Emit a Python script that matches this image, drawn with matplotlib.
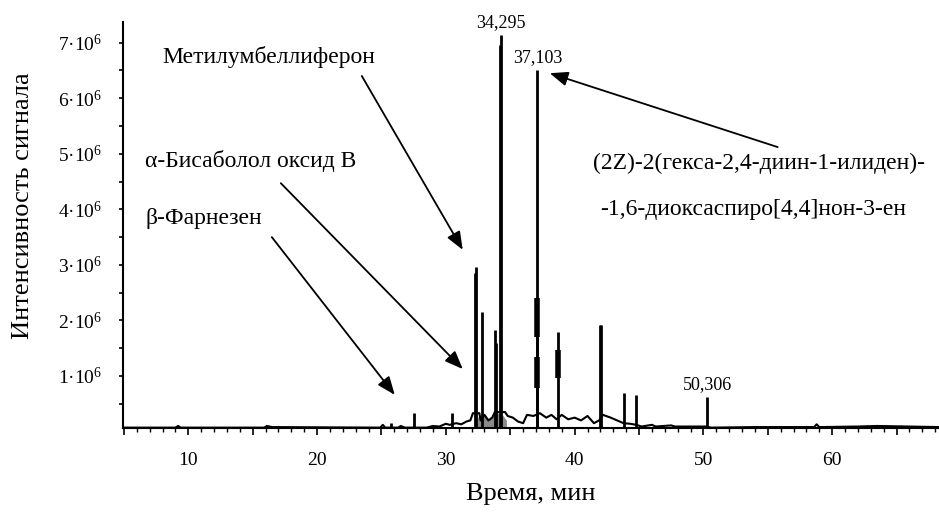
import matplotlib
matplotlib.use("Agg")
import matplotlib.pyplot as plt
from matplotlib.ticker import MultipleLocator, FuncFormatter


plt.rcParams['font.family'] = ['Liberation Serif', 'DejaVu Serif']
plt.rcParams['mathtext.fontset'] = 'custom'
plt.rcParams['mathtext.rm'] = 'Liberation Serif'
plt.rcParams['mathtext.it'] = 'Liberation Serif:italic'

# Peaks of the chromatogram: retention time [min], height [10^6].
peak_times = [25.7, 27.5, 30.5, 32.25, 32.32, 32.84, 33.85, 33.92,
	34.22, 34.295, 37.05, 37.103, 38.72, 41.97, 42.03, 43.8, 44.74,
	50.306]
peak_heights = [0.16, 0.34, 0.34, 2.85, 2.97, 2.16, 1.83, 1.6,
	6.95, 7.14, 2.4, 6.5, 1.79, 1.92, 1.92, 0.69, 0.66,
	0.62]

# Thicker stretches on some peaks: time, lower, upper [10^6].
bold_times = [37.103, 37.103, 38.72]
bold_lows = [0.78, 1.7, 0.96]
bold_highs = [1.34, 2.4, 1.47]

# Baseline between the peaks.
baseline_times = [4.9, 9.0, 9.2, 9.4, 15.9, 16.1, 16.5, 24.9, 25.1, 25.3,
	26.3, 26.5, 26.8, 28.5, 29.0, 29.5, 30.0, 30.3, 30.8, 31.2, 31.6, 31.9,
	32.1, 32.6, 32.7, 33.0, 33.3, 33.6, 33.8, 34.6, 34.8, 35.2, 35.6, 36.0,
	36.3, 36.8, 37.3, 37.8, 38.2, 38.6, 39.0, 39.5, 40.0, 40.5, 41.0, 41.5,
	41.9, 42.2, 42.8, 43.3, 43.8, 44.3, 44.8, 45.2, 46.0, 46.3, 47.5, 47.8,
	50.2, 50.6, 54.0, 58.6, 58.8, 59.0, 62.0, 63.5, 68.3]
baseline_values = [0.07, 0.07, 0.1, 0.07, 0.07, 0.1, 0.08, 0.07, 0.12, 0.07,
	0.07, 0.1, 0.07, 0.07, 0.1, 0.09, 0.14, 0.12, 0.15, 0.13, 0.18, 0.2,
	0.33, 0.33, 0.2, 0.3, 0.2, 0.25, 0.35, 0.35, 0.28, 0.25, 0.18, 0.15,
	0.3, 0.28, 0.33, 0.25, 0.3, 0.22, 0.3, 0.22, 0.25, 0.2, 0.28, 0.15,
	0.2, 0.3, 0.25, 0.2, 0.15, 0.14, 0.12, 0.09, 0.12, 0.09, 0.11, 0.09,
	0.09, 0.07, 0.08, 0.08, 0.13, 0.08, 0.09, 0.1, 0.08]

# Grey overlapping trace under the 32-35 min group.
shade_times = [32.4, 32.6, 33.0, 33.4, 33.7, 34.0, 34.4, 34.7]
shade_values = [0.22, 0.3, 0.28, 0.22, 0.3, 0.33, 0.3, 0.2]

y_ticks = [1, 2, 3, 4, 5, 6, 7]
y_tick_labels = ['{0}·10$^{{6}}$'.format(v) for v in y_ticks]

# Retention times printed over the main peaks.
marked_times = [34.295, 37.103, 50.306]
marked_heights = [7.14, 6.5, 0.62]
marked_labels = ['34,295', '37,103', '50,306']

# Compound names.
compounds = ['Метилумбеллиферон', 'α-Бисаболол оксид B', 'β-Фарнезен',
	'(2Z)-2(гекса-2,4-диин-1-илиден)-\n-1,6-диоксаспиро[4,4]нон-3-ен']


def plot_chromatogram():
	fig = plt.figure(figsize=(9.39, 5.14), dpi=100)
	ax = fig.add_axes([122.7/939, (514 - 428.3)/514,
		(939 - 122.7)/939, (428.3 - 21.7)/514])

	ax.fill_between(shade_times, 0.06, shade_values, color='#8a8a8a', lw=0)
	ax.plot(baseline_times, baseline_values, color='black', lw=1.5)
	ax.vlines(peak_times, 0.06, peak_heights, color='black', lw=2.0)
	ax.vlines(bold_times, bold_lows, bold_highs, color='black', lw=4.0)

	for t, h, s in zip(marked_times, marked_heights, marked_labels):
		ax.annotate(s, xy=(t, h), xytext=(0, 9), textcoords='offset points',
			ha='center', va='center', fontsize=13, annotation_clip=False)

	arrow = dict(arrowstyle='-|>,head_length=0.55,head_width=0.22',
		color='black', lw=1.3, mutation_scale=20, shrinkA=0, shrinkB=0)
	ax.annotate('', xy=(31.31, 3.27), xytext=(23.47, 6.40), arrowprops=arrow)
	ax.annotate('', xy=(31.31, 1.125), xytext=(17.18, 4.47), arrowprops=arrow)
	ax.annotate('', xy=(26.03, 0.66), xytext=(16.48, 3.50), arrowprops=arrow)
	ax.annotate('', xy=(38.07, 6.45), xytext=(55.77, 5.12), arrowprops=arrow)

	ax.text(8.0, 6.74, compounds[0], fontsize=17, ha='left', va='center')
	ax.text(6.62, 4.87, compounds[1], fontsize=17, ha='left', va='center')
	ax.text(6.70, 3.84, compounds[2], fontsize=17, ha='left', va='center')
	lines = compounds[3].split('\n')
	ax.text(41.4, 4.83, lines[0], fontsize=17, ha='left', va='center')
	ax.text(41.95, 4.0, lines[1], fontsize=17, ha='left', va='center')

	ax.set_xlim(4.9, 68.3)
	ax.set_ylim(0.058, 7.377)

	ax.xaxis.set_major_locator(MultipleLocator(5))
	ax.xaxis.set_minor_locator(MultipleLocator(1))
	ax.xaxis.set_major_formatter(FuncFormatter(
		lambda v, p: '{0:d}'.format(int(v)) if int(v) % 10 == 0 else ''))
	ax.set_yticks(y_ticks)
	ax.set_yticklabels(y_tick_labels)
	ax.yaxis.set_minor_locator(MultipleLocator(0.5))

	ax.tick_params(axis='x', which='major', direction='out', length=5,
		width=1.2, pad=12, labelsize=14)
	ax.tick_params(axis='x', which='minor', direction='out', length=3,
		width=1.0)
	ax.tick_params(axis='y', which='both', direction='out', length=3,
		width=1.2, pad=12, labelsize=14)

	for side in ['top', 'right']:
		ax.spines[side].set_visible(False)
	for side in ['left', 'bottom']:
		ax.spines[side].set_linewidth(1.5)

	ax.set_xlabel('Время, мин', fontsize=19, labelpad=10)
	fig.text(23/939, 1 - 206/514, 'Интенсивность сигнала', fontsize=19,
		rotation=90, ha='center', va='center')

	fig.savefig('out.png', dpi=100)


def main():
	plot_chromatogram()

if __name__ == '__main__':
	main()
